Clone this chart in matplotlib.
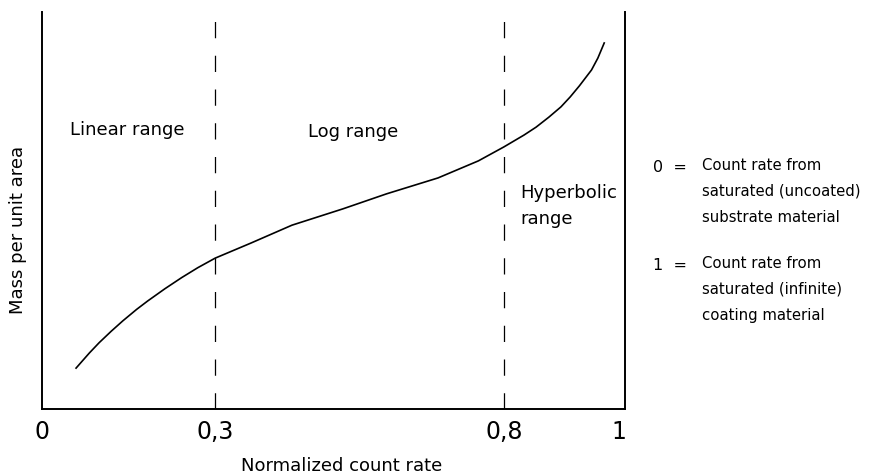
import numpy as np
import matplotlib
matplotlib.use('Agg')
import matplotlib.pyplot as plt

# curve (normalized count rate vs. mass per unit area)
count_rate = [0.059, 0.082, 0.099, 0.120, 0.140, 0.164, 0.183, 0.213, 0.242,
              0.270, 0.300, 0.362, 0.433, 0.521, 0.597, 0.686, 0.756, 0.800,
              0.835, 0.856, 0.878, 0.899, 0.915, 0.931, 0.952, 0.963, 0.974]
mass = [0.103, 0.141, 0.167, 0.196, 0.222, 0.251, 0.272, 0.303, 0.331,
        0.356, 0.380, 0.418, 0.463, 0.504, 0.542, 0.582, 0.625, 0.660,
        0.690, 0.710, 0.735, 0.761, 0.786, 0.814, 0.854, 0.884, 0.922]

boundaries = [0.3, 0.8]
tick_pos = [0, 0.3, 0.8, 1]
tick_labels = ['0', '0,3', '0,8', '1']

range_labels = ['Linear range', 'Log range', 'Hyperbolic\nrange']

W, H = 889, 474
fig = plt.figure(figsize=(W / 100, H / 100), dpi=100)
ax = fig.add_axes([42 / W, (H - 409) / H, 583 / W, 397 / H])

ax.plot(count_rate, mass, color='black', lw=1.2, solid_joinstyle='round')
ax.vlines(boundaries, 0, 0.99, colors='black', lw=0.9,
          linestyles=(0, (13, 14)))

ax.set_xlim(0, 1.01)
ax.set_ylim(0, 1)

ax.spines['top'].set_visible(False)
for s in ['left', 'right', 'bottom']:
    ax.spines[s].set_linewidth(1.4)
ax.set_yticks([])
ax.set_xticks(tick_pos)
ax.set_xticklabels(tick_labels, family=['Liberation Sans Narrow', 'DejaVu Sans'],
                   fontsize=17)
ax.tick_params(axis='x', length=0, pad=8)

ax.set_xlabel('Normalized count rate', fontsize=13, va='center')
ax.xaxis.set_label_coords((342 - 42) / 583, -(466 - 409) / 397)

txt = dict(fontsize=13, color='black')
ax.text(0.147, 0.703, range_labels[0], ha='center', va='center', **txt)
ax.text(0.539, 0.698, range_labels[1], ha='center', va='center', **txt)
ax.text(0.828, 0.512, range_labels[2], ha='left', va='center',
        linespacing=1.55, **txt)

fig.text(18 / W, 1 - 230 / H, 'Mass per unit area', rotation=90,
         ha='center', va='center', fontsize=13)

# legend notes at right
notes = [('0', 'Count rate from\nsaturated (uncoated)\nsubstrate material', 167),
         ('1', 'Count rate from\nsaturated (infinite)\ncoating material', 265)]
for num, body, ytop in notes:
    fig.text(653 / W, 1 - ytop / H, num + '  =', ha='left', va='center',
             fontsize=11.5)
    fig.text(702 / W, 1 - (ytop - 9) / H, body, ha='left', va='top',
             fontsize=10.7, linespacing=1.9)

fig.savefig('out.png', dpi=100)
